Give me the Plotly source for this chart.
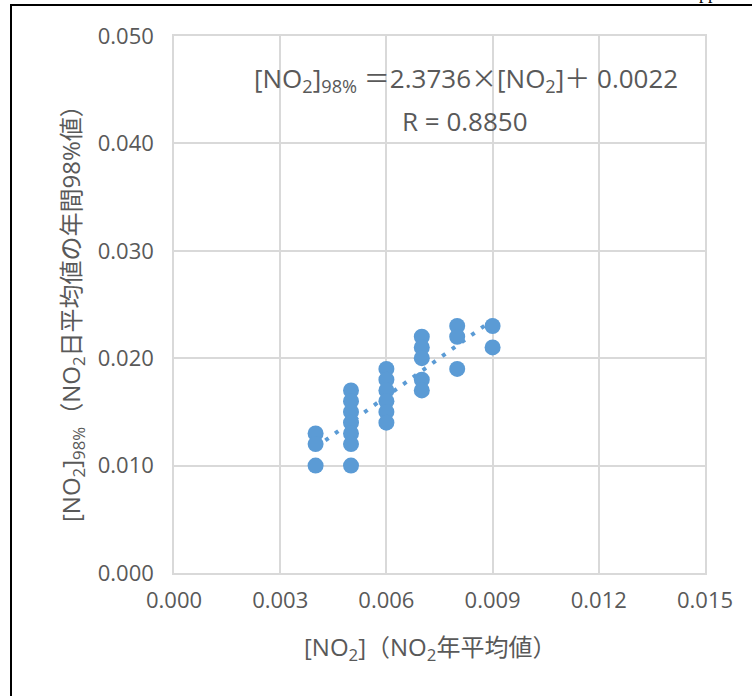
import plotly.graph_objects as go

# ---- data ----
no2_annual = [0.004, 0.004, 0.004,
              0.005, 0.005, 0.005, 0.005, 0.005, 0.005, 0.005,
              0.006, 0.006, 0.006, 0.006, 0.006, 0.006,
              0.007, 0.007, 0.007, 0.007, 0.007,
              0.008, 0.008, 0.008,
              0.009, 0.009]
no2_98 = [0.013, 0.012, 0.010,
          0.017, 0.016, 0.015, 0.014, 0.013, 0.012, 0.010,
          0.019, 0.018, 0.017, 0.016, 0.015, 0.014,
          0.022, 0.021, 0.020, 0.018, 0.017,
          0.023, 0.022, 0.019,
          0.023, 0.021]
slope = 2.3736
intercept = 0.0022
r_value = 0.8850
x_ticks = [0.000, 0.003, 0.006, 0.009, 0.012, 0.015]
y_ticks = [0.000, 0.010, 0.020, 0.030, 0.040, 0.050]

FONT = "Open Sans, Noto Sans CJK JP, sans-serif"
CJK = "Noto Sans CJK JP"
GRID = "#D9D9D9"
TXT = "#595959"
BLUE = "#5B9BD5"

W, H = 752, 696
L, R, T, B = 174, 47, 36, 123
pw, ph = W - L - R, H - T - B

def px2paper_x(px):
    return (px - L) / pw

def px2paper_y(py):
    return (H - B - py) / ph

fig = go.Figure()

tx = [min(no2_annual), max(no2_annual)]
ty = [slope * v + intercept for v in tx]
fig.add_trace(go.Scatter(x=tx, y=ty, mode="lines",
                         line=dict(color=BLUE, width=4, dash="4px,8px"),
                         hoverinfo="skip", showlegend=False))
fig.add_trace(go.Scatter(x=no2_annual, y=no2_98, mode="markers",
                         marker=dict(color=BLUE, size=16, line=dict(width=0)),
                         showlegend=False))

axis_common = dict(showgrid=True, gridcolor=GRID, gridwidth=1.5,
                   zeroline=False, showline=True, linecolor=GRID, linewidth=1.5,
                   mirror=True, ticks="outside", tickcolor="rgba(0,0,0,0)",
                   tickfont=dict(family=FONT, size=22, color=TXT))

fig.update_layout(
    width=W, height=H,
    margin=dict(l=L, r=R, t=T, b=B, autoexpand=False),
    paper_bgcolor="white", plot_bgcolor="white",
    xaxis=dict(range=[0, 0.015], tickvals=x_ticks,
               ticktext=[f"{v:.3f}" for v in x_ticks], ticklen=7, **axis_common),
    yaxis=dict(range=[0, 0.050], tickvals=y_ticks,
               ticktext=[f"{v:.3f}" for v in y_ticks], ticklen=14, **axis_common),
)

def cjk(s):
    return f'<span style="font-family:{CJK}">{s}</span>'

eq_text = (f"[NO<sub>2</sub>]<sub>98%</sub> {cjk('＝')}2.3736{cjk('×')}"
           f"[NO<sub>2</sub>]{cjk('＋')} 0.0022")

annotations = [
    dict(text=eq_text,
         x=px2paper_x(466), y=px2paper_y(78), xref="paper", yref="paper",
         showarrow=False, font=dict(family=FONT, size=26, color=TXT),
         xanchor="center", yanchor="middle"),
    dict(text=f"R = {r_value:.4f}",
         x=px2paper_x(465), y=px2paper_y(121), xref="paper", yref="paper",
         showarrow=False, font=dict(family=FONT, size=26, color=TXT),
         xanchor="center", yanchor="middle"),
    dict(text="[NO<sub>2</sub>]（NO<sub>2</sub>年平均値）",
         x=px2paper_x(430), y=px2paper_y(648), xref="paper", yref="paper",
         showarrow=False, font=dict(family=FONT, size=24, color=TXT),
         xanchor="center", yanchor="middle"),
    dict(text="[NO<sub>2</sub>]<sub>98%</sub>（NO<sub>2</sub>日平均値の年間98%値）",
         x=px2paper_x(72), y=px2paper_y(308), xref="paper", yref="paper",
         showarrow=False, textangle=-90, font=dict(family=FONT, size=24, color=TXT),
         xanchor="center", yanchor="middle"),
    dict(text="pp", x=px2paper_x(708), y=px2paper_y(4), xref="paper", yref="paper",
         showarrow=False, font=dict(family="Liberation Serif", size=18, color="black"),
         xanchor="center", yanchor="bottom", borderpad=0),
]
fig.update_layout(annotations=annotations)

# outer frame lines (left and top)
fig.add_shape(type="line", xref="paper", yref="paper",
              x0=px2paper_x(11), x1=px2paper_x(11), y0=px2paper_y(5), y1=px2paper_y(700),
              line=dict(color="black", width=2))
fig.add_shape(type="line", xref="paper", yref="paper",
              x0=px2paper_x(10), x1=px2paper_x(760), y0=px2paper_y(5), y1=px2paper_y(5),
              line=dict(color="black", width=2))

fig.write_html("out.html",
               config={"displayModeBar": False},
               post_script="document.body.style.margin='0';document.body.style.overflow='hidden';")
